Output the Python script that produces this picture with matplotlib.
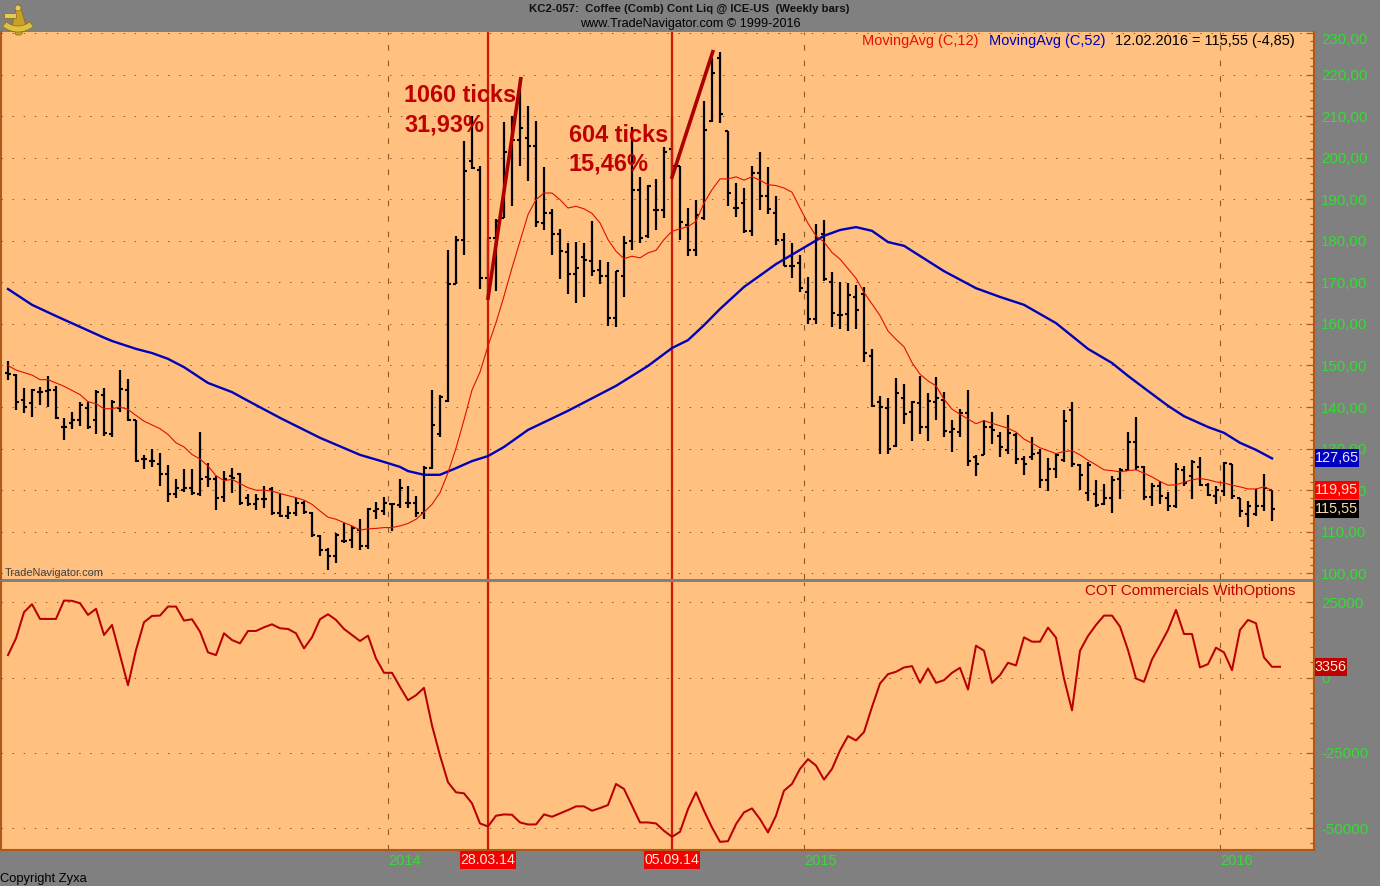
import matplotlib
matplotlib.use('Agg')
import matplotlib.pyplot as plt
from matplotlib.patches import Polygon, Circle, Rectangle, Wedge

plt.rcParams['font.family'] = ['Liberation Sans', 'DejaVu Sans']

# weekly bars, index 0 = first bar on the left
high = [151, 148, 144.6, 144.4, 144.8, 147.4, 145, 137.3, 138.9, 141.3, 141.3, 144, 144.6, 141.8, 148.8, 146.8,
        137, 128.4, 130, 129, 126, 122.7, 125, 125, 134.1, 126.6, 123.5, 124.5, 125.4, 124.1, 119.2, 119,
        121, 120.7, 119.2, 116.2, 118, 117.4, 114.7, 109.1, 106.1, 109.7, 112, 111.3, 113, 115.6, 117.1, 118.4,
        117, 122.7, 121.1, 118.6, 125.8, 144.1, 142.8, 177.7, 181.1, 204.1, 210, 198, 180.7, 185.3, 208.6, 210,
        218.9, 212.4, 208.9, 197.8, 187.7, 182.9, 179.5, 179.7, 179.5, 184.8, 175.3, 174.9, 172.8, 181.1, 207.4, 195.4,
        193.5, 194.9, 202.6, 210, 197.9, 187.9, 189.9, 213.6, 224, 225.5, 206.4, 193.9, 192.7, 197.9, 201.3, 197.8,
        190.9, 182, 179.5, 176.7, 171.3, 184, 185, 172.6, 170.1, 169.8, 169.3, 169, 153.9, 142.6, 142.3, 147,
        145.5, 141.5, 147.4, 143.5, 147.3, 143.7, 136.9, 139.5, 144.1, 128.4, 136.9, 138.9, 134, 138.1, 133.7, 128.3,
        132.7, 130, 127.7, 128.9, 139.2, 141.2, 126.4, 126.9, 122.4, 121.5, 123.3, 125.3, 134.1, 137.6, 125.9, 121.7,
        122.1, 119.6, 126.5, 125.7, 127.2, 128.1, 121.7, 120.9, 126.7, 126.4, 118.1, 117.3, 120.4, 124, 120.1]
low = [146.5, 139.3, 138.6, 137.6, 140.4, 140, 137.2, 132, 134.8, 135.4, 134.8, 133.4, 133, 132.8, 138.8, 136.6,
       126.7, 125.1, 125.6, 121, 117.1, 118, 119.5, 118.8, 118.6, 120.7, 115.2, 117.1, 119.4, 116.4, 116.2, 115.2,
       115.8, 114, 113.6, 113, 113.8, 114.2, 108.8, 104.1, 100.9, 102.5, 107.2, 106.1, 105.7, 105.9, 113.1, 114,
       110.1, 115.8, 115.8, 113.5, 113.1, 125, 132.8, 141.2, 169.5, 176.7, 197.3, 168.3, 166.3, 167.9, 185.5, 188.3,
       198.1, 194.3, 183.3, 182.6, 176.5, 170.7, 167.1, 165.1, 166.4, 171.5, 169.7, 159.5, 159.2, 166.4, 177.9, 179.5,
       180.7, 182.7, 185.5, 195.5, 180.3, 176.3, 176.3, 185.1, 208.5, 208.4, 188.3, 185.8, 182, 181.1, 187.3, 186.5,
       178.9, 173.9, 171.1, 167.7, 160.1, 160, 170.4, 159.3, 158.7, 158.3, 158.7, 150.9, 140.1, 128.7, 128.7, 130.5,
       135.9, 131.9, 133.5, 131.9, 136.9, 132.7, 129.2, 132.7, 125.9, 123.5, 128.4, 131.1, 128.1, 128.7, 126.3, 123.7,
       127.3, 120.5, 119.7, 122.9, 126.9, 125.6, 120.1, 117.5, 115.9, 116.5, 114.5, 117.9, 124.7, 124.9, 117.7, 116.1,
       116.7, 114.9, 115.7, 120.9, 117.9, 120.9, 118.7, 116.7, 118.5, 117.9, 113.5, 111.1, 113.9, 114.9, 112.5]
open_ = [148.2, 147.8, 141.8, 141, 143.6, 143.8, 144, 135.2, 136.2, 137, 139.8, 136.8, 143, 133.4, 139.8, 144.2,
         136.8, 127.6, 127, 126.4, 123.8, 119.2, 120, 120.6, 119.2, 123.2, 122.6, 118.4, 123.4, 123.8, 118.2, 116.6,
         117.8, 120.2, 114.6, 113.8, 114.6, 117, 114.6, 109, 105.7, 104.1, 107.7, 108.1, 110.5, 106.5, 115, 115,
         116.6, 116.4, 117, 117, 114.6, 125.4, 133.4, 141.5, 169.7, 180.3, 199.1, 197.1, 171.1, 180.7, 185.5, 201.3,
         204.2, 204.8, 202.9, 184.3, 186.6, 181.7, 177.3, 171.9, 176.1, 175.1, 172.9, 171.6, 161.5, 171.5, 179.9, 192.2,
         181.1, 187.5, 187.5, 202.1, 197.9, 183.7, 177.9, 185.5, 208.8, 224, 206.4, 187.9, 189.1, 182.3, 196.2, 190.9,
         186.7, 180.3, 174, 174.7, 167.6, 161.2, 181.6, 170.1, 162.1, 162.4, 166.6, 167.2, 152.3, 141.3, 139.7, 130.7,
         142.1, 138.9, 140.9, 135.1, 141.1, 141.7, 133.9, 133.9, 138.5, 128.1, 128.4, 135.1, 133.1, 129.7, 133.2, 127.6,
         127.9, 129, 122.4, 125.1, 127.2, 139.2, 126.1, 119.3, 119.2, 116.7, 118.1, 122.7, 124.8, 131.6, 125.6, 118.3,
         120.9, 118.1, 116.1, 124.8, 123.5, 125.6, 121.3, 118.7, 119.7, 126.4, 118.1, 114.3, 114.3, 116.1, 120.1]
close = [148, 141.2, 140, 144.2, 143.6, 144, 137.4, 135.2, 137, 140.6, 135.2, 143.7, 133.8, 141.3, 144.4, 136.8,
         127, 127.6, 127, 123.8, 119.2, 120.6, 120.6, 119.4, 122.6, 122.7, 118.2, 122.6, 123, 117, 116.6, 117.8,
         117.8, 114.4, 113.8, 114.4, 117, 114.7, 109.1, 105.7, 104.1, 109.3, 107.7, 110.9, 106.5, 115.4, 115.4, 117,
         116.6, 120.6, 117, 114.4, 125.4, 135.6, 142.5, 169.5, 180.3, 196.9, 197.5, 171.1, 180.7, 184.8, 201.3, 204.2,
         207.2, 202.9, 184.6, 186.6, 181.7, 177.5, 171.9, 173.5, 175.5, 172.7, 171.6, 161.5, 172.7, 179.5, 192.3, 180.7,
         193.3, 187.5, 201.3, 197.9, 184.5, 177.9, 186.1, 206.6, 220.4, 210.6, 191.4, 187.9, 182.3, 196.2, 190.7, 187.7,
         180.3, 173.9, 174, 168.7, 161.1, 180.4, 170.9, 162.6, 162.1, 166.9, 163.3, 153, 140.3, 139.9, 129.9, 143.5,
         138.3, 141.3, 135.1, 141.5, 142.3, 134.3, 134.7, 138.5, 127.1, 126.3, 135.3, 134.5, 130.3, 133.7, 127.6, 126.3,
         128.7, 122.4, 125.1, 128.5, 136.6, 126.4, 123.7, 126.1, 116.5, 118.1, 122.5, 124.8, 131.7, 125.6, 118.3, 121.1,
         118.7, 116.1, 125.1, 121.7, 126.9, 121.3, 118.9, 120.1, 126.5, 118.7, 114.9, 116.3, 116.3, 120.5, 115.55]

# moving averages, bar index and value at the bends of each line
ma12_bar = [0, 1, 3, 4, 5, 7, 9, 10, 11, 12, 13, 14, 15, 16, 17, 19, 20, 21, 22, 23, 24, 25, 26, 27, 28, 29, 30, 31,
            32, 33, 34, 36, 37, 38, 39, 40, 41, 42, 43, 44, 45, 46, 47, 48, 49, 50, 51, 52, 53, 54, 55, 56, 57, 58,
            59, 60, 61, 62, 63, 64, 65, 66, 67, 68, 69, 70, 71, 72, 73, 74, 75, 76, 77, 78, 79, 80, 81, 82, 83, 84,
            85, 86, 87, 88, 89, 90, 91, 92, 93, 94, 95, 96, 97, 98, 99, 100, 101, 102, 103, 104, 105, 106, 107, 108,
            109, 110, 111, 112, 113, 114, 115, 116, 117, 118, 119, 120, 121, 122, 123, 124, 125, 126, 127, 128, 129,
            130, 131, 132, 133, 134, 135, 136, 137, 138, 139, 140, 141, 142, 143, 144, 145, 146, 147, 148, 149, 150,
            151, 152, 153, 154, 155, 156, 157, 158]
ma12 = [150, 148.9, 147.7, 146.6, 146.6, 145, 143, 141.3, 140.8, 139.6, 139.6, 140, 139.4, 138, 136.6, 134.8, 133.4,
        131.4, 130.4, 128.6, 127.5, 125.8, 123.5, 122.3, 122.6, 121.6, 120.6, 120, 120, 119.8, 119.2, 118.2, 117.6,
        116.6, 115, 113.5, 113, 112.2, 111.4, 110.4, 110.7, 110.8, 111, 111, 111.4, 112, 113, 114.7, 116.6, 119.4,
        124.2, 130.1, 136.9, 144.1, 148.4, 154.7, 160.3, 166.7, 173.5, 179.9, 186.3, 189.9, 191.5, 191.5, 189.9, 187.9,
        188.3, 187.7, 186.6, 184.3, 180.3, 177.5, 175.7, 176.3, 175.9, 177.1, 177.7, 180.3, 182.3, 182.9, 183.4, 184.7,
        189.1, 192.3, 194.9, 194.9, 195.4, 194.6, 195.4, 194.6, 193.5, 193.3, 192.7, 191.7, 187.9, 184.2, 181.2, 179.7,
        177.2, 175.6, 173.3, 171, 167.6, 164.8, 162, 158.3, 156.3, 154.5, 150.7, 147.9, 146.3, 145.1, 141.9, 139.5,
        138.3, 137.1, 136, 136.7, 136.1, 135.5, 134.9, 134, 132.3, 131.3, 130.2, 129.5, 128.8, 129.3, 129.5, 128.5,
        127.2, 126.1, 124.9, 124.7, 124.4, 124.7, 124.9, 124.1, 123.2, 122.1, 121.2, 121.3, 121.9, 122.5, 122.8, 122.5,
        122, 121.7, 121.2, 120.8, 120.3, 120.3, 120.8, 119.95]
ma52_bar = [0, 3, 6, 12, 13, 16, 18, 20, 22, 25, 28, 30, 34, 39, 44, 47, 49, 50, 52, 54, 56, 58, 60, 62, 65, 70, 76,
            80, 83, 85, 87, 89, 92, 96, 99, 102, 104, 106, 108, 110, 112, 117, 121, 124, 127, 129, 131, 135, 138,
            140, 142, 145, 147, 150, 152, 154, 156, 158]
ma52 = [168.4, 164.6, 161.9, 156.7, 155.9, 154, 153, 151.6, 149.6, 145.8, 143.6, 141.5, 137.4, 132.6, 128.5, 126.8,
        125.6, 124.6, 123.7, 123.7, 125.3, 127, 128.2, 130.4, 134.5, 139.1, 145.1, 149.9, 154.2, 156.1, 159.7, 163.6,
        168.9, 174.4, 177.8, 181.2, 182.6, 183.3, 182.4, 179.7, 178.8, 172.7, 168.6, 166.5, 164.6, 162.4, 160.2, 154,
        150.6, 147.5, 144.6, 140.3, 137.8, 135.2, 133.8, 131.4, 129.7, 127.65]

# COT commercials, one value per bar (the line runs one bar past the price bars)
cot = [7440, 13000, 21670, 24330, 19440, 19440, 19440, 25550, 25440, 24660, 20780, 22780, 14110, 17440, 7440, -2560,
       9110, 18330, 20440, 20550, 23550, 23550, 18890, 19330, 15220, 8330, 7440, 14670, 12440, 11330, 15440, 15440,
       16660, 17660, 16330, 16110, 14670, 9660, 13330, 19330, 21000, 19110, 16110, 14110, 12110, 13890, 6330, 1560,
       1560, -3110, -7550, -5890, -3440, -15890, -25890, -34770, -38110, -38440, -41770, -48440, -49440, -45880,
       -45440, -45550, -48110, -48770, -48770, -45440, -46220, -45110, -44000, -42770, -42770, -44220, -43330, -42330,
       -35330, -37000, -42550, -48110, -48110, -48440, -50880, -52880, -51220, -43660, -38110, -44220, -49770, -54550,
       -54330, -48660, -44770, -43440, -47000, -51440, -45880, -37550, -35330, -30330, -27110, -29220, -33890, -30330,
       -24220, -19440, -20890, -18110, -9780, -2000, 1110, 1890, 3330, 3780, -1780, 3000, -1780, -890, 1560, 3220,
       -4000, 10550, 8890, -1780, 780, 4890, 4000, 13330, 11890, 11890, 16550, 13220, -330, -10890, 8890, 13780,
       17440, 20550, 20550, 16890, 9110, -330, -1440, 6000, 10780, 15780, 22440, 14440, 14440, 3330, 4440, 9890,
       8330, 2440, 15780, 19110, 18000, 6670, 3560, 3560]

price_ticks = list(range(100, 231, 10))
cot_ticks = [25000, 0, -25000, -50000]
year_bars = [47.5, 99.5, 151.5]
year_labels = ['2014', '2015', '2016']
event_bars = [60, 83]
event_labels = ['28.03.14', '05.09.14']
swing1_bars = [60, 64.1]
swing1_prices = [166.2, 219]
swing2_bars = [83, 88.1]
swing2_prices = [195.3, 225.5]

W, H = 1380, 886
BG = '#808080'
PANEL = '#FFC080'
EDGE = '#B05818'
GRID = '#8A5A2A'
GREEN = '#33DD33'
DARKRED = '#BE0000'
VLINE = '#D01808'


def px_axes(left, top, right, bottom):
    return fig.add_axes([left / W, 1 - bottom / H, (right - left) / W, (bottom - top) / H])


def style_panel(ax):
    ax.set_facecolor(PANEL)
    ax.set_xlim(-0.875, 163.25)
    ax.yaxis.tick_right()
    for s in ax.spines.values():
        s.set_visible(False)
    for s in ['left', 'right', 'bottom']:
        ax.spines[s].set_visible(True)
        ax.spines[s].set_color(EDGE)
        ax.spines[s].set_linewidth(1.5)
    ax.tick_params(axis='y', which='major', direction='in', length=6, width=0.9, color=EDGE,
                   labelcolor=GREEN, labelsize=10.8, pad=5)
    ax.tick_params(axis='y', which='minor', direction='in', length=3, width=0.9, color=EDGE)
    for x in year_bars:
        ax.axvline(x, color=GRID, lw=0.8, ls=(0, (5, 9)), zorder=1)
    for x in event_bars:
        ax.axvline(x, color=VLINE, lw=1.6, zorder=4)


def value_box(ax, y, half_height, width_px, text, bg, fg):
    # box sits just right of the panel, drawn over the tick labels
    ax.add_patch(Rectangle((1.0006, y - half_height), width_px / 1313, 2 * half_height,
                           transform=ax.get_yaxis_transform(), facecolor=bg, edgecolor='none',
                           clip_on=False, zorder=19))
    ax.text(1.0006 + width_px / 2626, y, text, transform=ax.get_yaxis_transform(), color=fg, fontsize=10.4,
            va='center', ha='center', zorder=20, clip_on=False)


fig = plt.figure(figsize=(W / 100, H / 100), dpi=100, facecolor=BG)

# ---------- price panel ----------
ax1 = px_axes(1, 32, 1314, 579)
style_panel(ax1)
ax1.set_ylim(100 + (573.3 - 579) / 4.156, 100 + (573.3 - 32) / 4.156)
ax1.spines['bottom'].set_visible(False)
ax1.set_xticks([])
ax1.set_yticks(price_ticks)
ax1.set_yticks([v for v in range(100, 231, 2) if v % 10], minor=True)
ax1.set_yticklabels(['%d,00' % v for v in price_ticks])
ax1.get_yticklabels()[-1].set_verticalalignment('top')
ax1.hlines(price_ticks, -0.875, 163.25, color=GRID, lw=0.72, ls=(0, (1.4, 9.7)), zorder=1)

bars = range(len(high))
ax1.vlines(bars, low, high, color='black', lw=1.6, zorder=3)
ax1.hlines(open_, [b - 0.42 for b in bars], bars, color='black', lw=1.5, zorder=3)
ax1.hlines(close, bars, [b + 0.42 for b in bars], color='black', lw=1.5, zorder=3)

ax1.plot(ma52_bar, ma52, color='#0000B8', lw=1.7, zorder=5)
ax1.plot(ma12_bar, ma12, color='#E01000', lw=0.8, zorder=5)
ax1.plot(swing1_bars, swing1_prices, color='#AE0000', lw=2.6, zorder=6)
ax1.plot(swing2_bars, swing2_prices, color='#AE0000', lw=2.6, zorder=6)

ax1.text(404 / W, 1 - 95.5 / H, '1060 ticks', transform=fig.transFigure, color=DARKRED, fontsize=16.9,
         fontweight='bold', va='center', zorder=7)
ax1.text(404 / W, 1 - 125 / H, '31,93%', transform=fig.transFigure, color=DARKRED, fontsize=16.9,
         fontweight='bold', va='center', zorder=7)
ax1.text(569 / W, 1 - 135.5 / H, '604 ticks', transform=fig.transFigure, color=DARKRED, fontsize=16.9,
         fontweight='bold', va='center', zorder=7)
ax1.text(569 / W, 1 - 164 / H, '15,46%', transform=fig.transFigure, color=DARKRED, fontsize=16.9,
         fontweight='bold', va='center', zorder=7)

fig.text(862 / W, 1 - 41 / H, 'MovingAvg (C,12)', color='#E81000', fontsize=10.45, va='center')
fig.text(989 / W, 1 - 41 / H, 'MovingAvg (C,52)', color='#0000B8', fontsize=10.45, va='center')
fig.text(1115 / W, 1 - 41 / H, '12.02.2016 = 115,55 (-4,85)', color='black', fontsize=10.45, va='center')
fig.text(5 / W, 1 - 573.5 / H, 'TradeNavigator.com', color='#404040', fontsize=7.9, va='center')

value_box(ax1, 127.65, 2.17, 44, '127,65', '#0000C0', '#E8E8FF')
value_box(ax1, 119.95, 2.17, 44, '119,95', '#FF0000', '#FFE0C0')
value_box(ax1, 115.55, 2.17, 44, '115,55', 'black', '#FFD8A8')

# ---------- COT panel ----------
ax2 = px_axes(1, 582, 1314, 850)
style_panel(ax2)
ax2.set_ylim((677.5 - 850) / 0.003013, (677.5 - 582) / 0.003013)
ax2.set_yticks(cot_ticks)
ax2.set_yticks([v for v in range(-55000, 30000, 5000) if v % 25000], minor=True)
ax2.set_yticklabels([str(v) for v in cot_ticks])
ax2.hlines(cot_ticks, -0.875, 163.25, color=GRID, lw=0.72, ls=(0, (1.4, 9.7)), zorder=1)
ax2.plot(range(len(cot)), cot, color='#B80000', lw=1.45, zorder=5)
ax2.set_xticks(year_bars)
ax2.set_xticklabels(year_labels, color=GREEN, fontsize=10.5, ha='left')
ax2.tick_params(axis='x', length=0, pad=3)
for x, lab in zip(event_bars, event_labels):
    ax2.add_patch(Rectangle((x - 3.5, -19 / 268), 7, 18 / 268, transform=ax2.get_xaxis_transform(),
                            facecolor='#F40000', edgecolor='none', clip_on=False, zorder=19))
    ax2.text(x, -10 / 268, lab, transform=ax2.get_xaxis_transform(), color='#FFE8D0', fontsize=10.2, ha='center',
             va='center', zorder=20, clip_on=False)
value_box(ax2, 3356, 2987, 32, '3356', '#C00000', '#FFE8D0')
fig.text(1295 / W, 1 - 591 / H, 'COT Commercials WithOptions', color='#C00000', fontsize=10.9, va='center', ha='right')

# ---------- header and footer ----------
fig.text(689 / W, 1 - 9 / H, 'KC2-057:  Coffee (Comb) Cont Liq @ ICE-US  (Weekly bars)', color='#101010',
         fontsize=8.2, fontweight='bold', ha='center', va='center')
fig.text(690.5 / W, 1 - 24.5 / H, 'www.TradeNavigator.com \u00a9 1999-2016', color='black', fontsize=9.1,
         ha='center', va='center')
fig.text(0, 1 - 879 / H, 'Copyright Zyxa', color='black', fontsize=9.3, va='center')

# little sextant logo, top left
logo = fig.add_axes([0, 1 - 36 / H, 36 / W, 34 / H])
logo.set_xlim(0, 36)
logo.set_ylim(34, 0)
logo.axis('off')
logo.add_patch(Polygon([[17, 3], [20, 3], [26, 24], [21, 33], [16, 33], [12, 24]], fc='#C9A028', ec='#8A6A10', lw=0.5))
logo.add_patch(Wedge((18, 6), 24, 50, 130, width=6, fc='#E0C040', ec='#8A6A10', lw=0.5))
logo.add_patch(Rectangle((4, 11), 12, 5, fc='#E4C860', ec='#8A6A10', lw=0.5))
logo.add_patch(Circle((18, 6), 3, fc='#E4C860', ec='#8A6A10', lw=0.5))

fig.savefig('out.png', dpi=100, facecolor=BG)
